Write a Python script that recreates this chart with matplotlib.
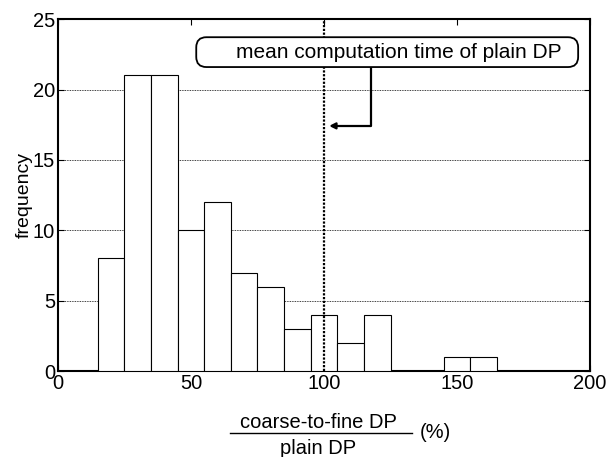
import numpy as np
import matplotlib.pyplot as plt
from matplotlib.lines import Line2D
from matplotlib.patches import FancyBboxPatch

plt.rcParams['font.family'] = ['Liberation Sans', 'DejaVu Sans']

# histogram bins (percent) and counts
bin_left = [15, 25, 35, 45, 55, 65, 75, 85, 95, 105, 115, 125, 135, 145, 155]
counts = [8, 21, 21, 10, 12, 7, 6, 3, 4, 2, 4, 0, 0, 1, 1]
bin_width = 10
mean_plain = 100
x_ticks = [0, 50, 100, 150, 200]
y_ticks = [0, 5, 10, 15, 20, 25]

fig = plt.figure(figsize=(6.09, 4.57), dpi=100)
ax = fig.add_axes([0.095, 0.188, 0.874, 0.770])

ax.bar(bin_left, counts, width=bin_width, align='edge',
       facecolor='white', edgecolor='black', linewidth=0.8, zorder=3)

for y in y_ticks[1:-1]:
    ax.axhline(y, color='black', linestyle=(0, (1, 1)), linewidth=0.6, zorder=1)
ax.axvline(mean_plain, color='black', linestyle=(0, (1, 0.7)), linewidth=1.6, zorder=4)

ax.set_xlim(0, 200)
ax.set_ylim(0, 25)
ax.set_xticks(x_ticks)
ax.set_yticks(y_ticks)
ax.tick_params(direction='in', top=True, right=True, labelsize=14.5, length=4, pad=2)
for s in ax.spines.values():
    s.set_linewidth(1.5)
ax.set_ylabel('frequency', fontsize=14, labelpad=0)

# annotation: rounded box, text, elbow arrow
box = FancyBboxPatch((52, 21.6), 143.5, 2.12,
                     boxstyle='round,pad=0,rounding_size=3.8', mutation_aspect=0.19,
                     fc='white', ec='black', lw=1.3, zorder=6)
ax.add_patch(box)
ax.text(128.3, 22.62, 'mean computation time of plain DP', fontsize=15,
        ha='center', va='center', zorder=7)
ax.annotate('', xy=(101.9, 17.42), xytext=(117.6, 21.6),
            arrowprops=dict(arrowstyle='-|>', color='black', lw=1.6, mutation_scale=9,
                            connectionstyle='angle,angleA=-90,angleB=180,rad=0',
                            shrinkA=0, shrinkB=0), zorder=5)

# fraction-style x label
fig.text(318 / 609, 1 - 422 / 457, 'coarse-to-fine DP', ha='center', va='center', fontsize=14.5)
fig.text(318 / 609, 1 - 448 / 457, 'plain DP', ha='center', va='center', fontsize=14.5)
fig.add_artist(Line2D([230 / 609, 412 / 609], [1 - 433 / 457, 1 - 433 / 457],
                      color='black', linewidth=1.0))
fig.text(435 / 609, 1 - 433 / 457, '(%)', ha='center', va='center', fontsize=14.5)

fig.savefig('out.png', dpi=100)
